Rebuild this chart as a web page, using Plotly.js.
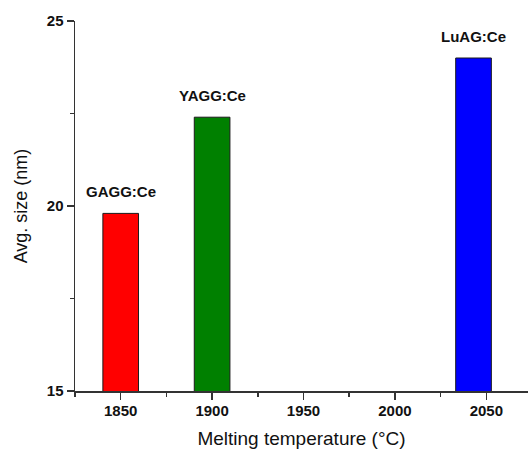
<!DOCTYPE html>
<html>
<head>
<meta charset="utf-8">
<script src="https://cdn.plot.ly/plotly-3.0.1.min.js"></script>
<style>html,body{margin:0;padding:0;background:#fff;}#chart{width:528px;height:449px;}</style>
</head>
<body>
<div id="chart"></div>
<script>
const temps = [1850, 1900, 2043];
const sizes = [19.8, 22.4, 24.0];
const labels = ['GAGG:Ce', 'YAGG:Ce', 'LuAG:Ce'];
const colors = ['#FF0000', '#008000', '#0000FF'];
const xTicks = [1850, 1900, 1950, 2000, 2050];
const yTicks = [15, 20, 25];

const FONT = '"Liberation Sans", Arial, sans-serif';

const trace = {
  type: 'bar',
  x: temps,
  y: sizes,
  width: 19.5,
  marker: {color: colors, line: {color: '#1a1a1a', width: 1}},
  hoverinfo: 'skip'
};

const annotations = labels.map((t, i) => ({
  x: temps[i], y: sizes[i], xref: 'x', yref: 'y',
  text: '<b>' + t + '</b>', showarrow: false,
  xanchor: 'center', yanchor: 'bottom', yshift: 11,
  font: {family: FONT, size: 15, color: '#111'}
}));

const layout = {
  width: 528, height: 449,
  margin: {l: 75, r: 0, t: 21, b: 58},
  paper_bgcolor: '#ffffff', plot_bgcolor: '#ffffff',
  showlegend: false,
  font: {family: FONT, color: '#111'},
  xaxis: {
    range: [1825, 2072.8],
    tickvals: xTicks,
    ticktext: xTicks.map(v => '<b>' + v + '</b>'),
    ticks: 'outside', ticklen: 7, tickwidth: 1.5, tickcolor: '#333',
    ticklabelstandoff: -2,
    tickfont: {family: FONT, size: 15, color: '#111'},
    showline: true, linecolor: '#333', linewidth: 1.5,
    showgrid: false, zeroline: false,
    minor: {dtick: 25, tick0: 1825, ticks: 'outside', ticklen: 4, tickwidth: 1.5, tickcolor: '#333', showgrid: false},
    title: {text: 'Melting temperature (°C)', font: {family: FONT, size: 19, color: '#111'}, standoff: 14}
  },
  yaxis: {
    range: [15, 25],
    tickvals: yTicks,
    ticktext: yTicks.map(v => '<b>' + v + '</b>'),
    ticks: 'outside', ticklen: 7, tickwidth: 1.5, tickcolor: '#333',
    tickfont: {family: FONT, size: 15, color: '#111'},
    showline: true, linecolor: '#333', linewidth: 1.5,
    showgrid: false, zeroline: false,
    minor: {dtick: 2.5, tick0: 15, ticks: 'outside', ticklen: 4, tickwidth: 1.5, tickcolor: '#333', showgrid: false},
    title: {text: 'Avg. size (nm)', font: {family: FONT, size: 18, color: '#111'}, standoff: 14}
  },
  annotations: annotations
};

Plotly.newPlot('chart', [trace], layout, {displayModeBar: false, staticPlot: true});
</script>
</body>
</html>
